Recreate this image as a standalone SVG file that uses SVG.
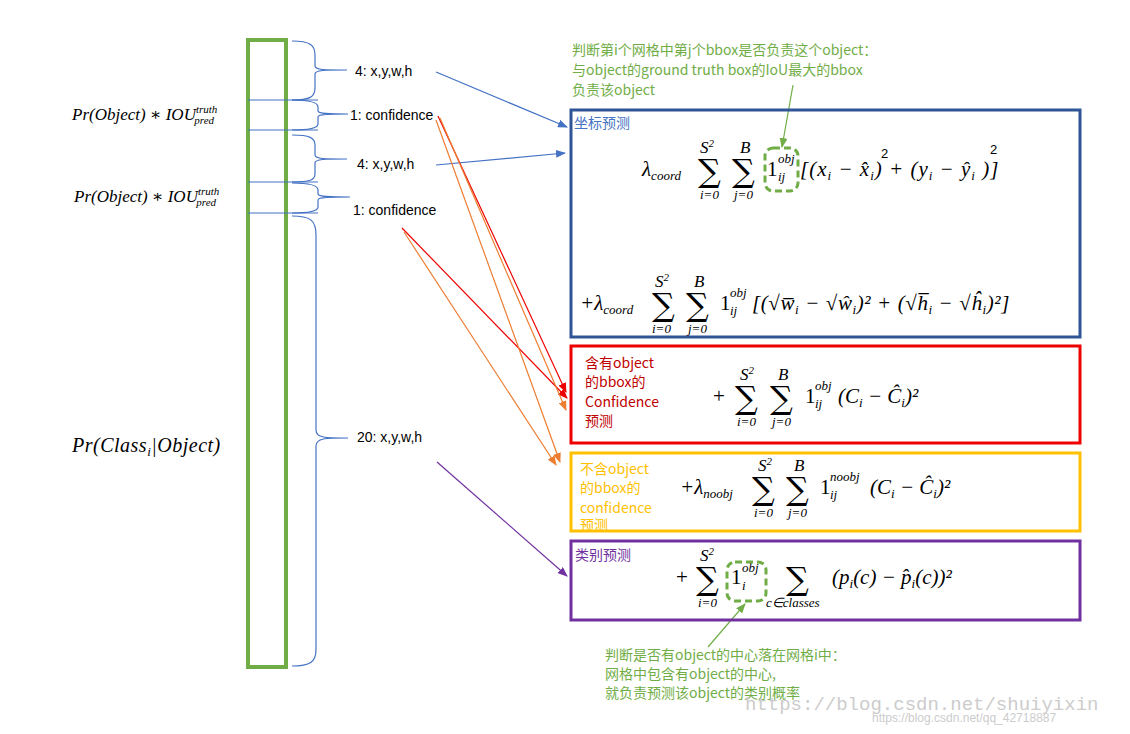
<svg xmlns="http://www.w3.org/2000/svg" width="1130" height="734" viewBox="0 0 1130 734">
<style>
.lbl{font-family:"Liberation Sans",Arial,sans-serif;font-size:14px;fill:#000}
.m{font-family:"Liberation Serif","DejaVu Serif",serif;font-style:italic;font-size:21px;fill:#000}
.s{font-family:"Liberation Serif","DejaVu Serif",serif;font-style:italic;font-size:17px;fill:#000}
.lf{font-family:"Liberation Serif","DejaVu Serif",serif;font-style:italic;font-size:17px;fill:#000}
.lc{font-family:"Liberation Serif","DejaVu Serif",serif;font-style:italic;font-size:20px;fill:#000}
.mu{font-family:"Liberation Serif","DejaVu Serif",serif;font-size:21px;fill:#000}
.sig{font-family:"DejaVu Serif",serif;font-size:32px;fill:#000}
.sm{font-family:"Liberation Serif",serif;font-style:italic;font-size:13px;fill:#000}
.two{font-family:"Liberation Sans",Arial,sans-serif;font-size:13px;fill:#000}
.cn{font-family:"Noto Sans CJK SC","Liberation Sans",sans-serif;font-size:14px}
.br{fill:none;stroke:#4472c4;stroke-width:1.2}
.dash{fill:none;stroke:#70ad47;stroke-width:3;stroke-dasharray:7 4}
</style>
<defs>
<marker id="ab" markerWidth="10" markerHeight="8" refX="9" refY="4" orient="auto" markerUnits="userSpaceOnUse"><path d="M0,0L10,4L0,8z" fill="#4472c4"/></marker>
<marker id="ar" markerWidth="10" markerHeight="8" refX="9" refY="4" orient="auto" markerUnits="userSpaceOnUse"><path d="M0,0L10,4L0,8z" fill="#e00"/></marker>
<marker id="ao" markerWidth="10" markerHeight="8" refX="9" refY="4" orient="auto" markerUnits="userSpaceOnUse"><path d="M0,0L10,4L0,8z" fill="#ed7d31"/></marker>
<marker id="ap" markerWidth="10" markerHeight="8" refX="9" refY="4" orient="auto" markerUnits="userSpaceOnUse"><path d="M0,0L10,4L0,8z" fill="#7030a0"/></marker>
<marker id="ag" markerWidth="10" markerHeight="8" refX="9" refY="4" orient="auto" markerUnits="userSpaceOnUse"><path d="M0,0L10,4L0,8z" fill="#70ad47"/></marker>
</defs>
<rect width="1130" height="734" fill="#fff"/>

<g id="vector">
<rect x="248" y="40" width="38" height="627" fill="none" stroke="#70ad47" stroke-width="4"/>
<g stroke="#4472c4" stroke-width="1.2">
<line x1="248" y1="100" x2="318" y2="100"/><line x1="248" y1="130" x2="318" y2="130"/>
<line x1="248" y1="182" x2="318" y2="182"/><line x1="248" y1="213" x2="318" y2="213"/>
</g>
<path class="br" d="M292,41 C310,41 315,45 315,55 L315,66 C315,70 325,70 347,70 C325,70 315,70 315,74 L315,88 C315,97 310,100 292,100"/>
<path class="br" d="M292,100 C310,100 318,102 318,107 L318,111 C318,114 330,114 348,114 C330,114 318,114 318,117 L318,124 C318,128 310,130 292,130"/>
<path class="br" d="M292,135 C310,135 315,138 315,145 L315,155 C315,159 325,159 347,159 C325,159 315,159 315,163 L315,174 C315,180 310,182 292,182"/>
<path class="br" d="M292,183 C310,183 318,185 318,190 L318,194 C318,197 330,197 350,197 C330,197 318,197 318,200 L318,207 C318,211 310,213 292,213"/>
<path class="br" d="M292,216 C310,216 316,220 316,235 L316,430 C316,438 325,438 348,438 C325,438 316,438 316,446 L316,650 C316,662 310,666 292,666"/>
</g>

<g id="left-labels">
<text x="72" y="120" class="lf">Pr(Object) ∗ IOU<tspan font-size="11" dy="-7">truth</tspan><tspan font-size="11" dx="-23" dy="11">pred</tspan></text>
<text x="74" y="202" class="lf">Pr(Object) ∗ IOU<tspan font-size="11" dy="-7">truth</tspan><tspan font-size="11" dx="-23" dy="11">pred</tspan></text>
<text x="72" y="452" class="lc" letter-spacing="0.5">Pr(Class<tspan font-size="13" dy="4">i</tspan><tspan dy="-4">|Object)</tspan></text>
</g>

<g id="vec-labels" class="lbl">
<text x="355" y="76">4: x,y,w,h</text>
<text x="350" y="120">1: confidence</text>
<text x="357" y="169">4: x,y,w,h</text>
<text x="353" y="215">1: confidence</text>
<text x="357" y="442">20:  x,y,w,h</text>
</g>

<g id="connectors" fill="none" stroke-width="1.2">
<line x1="436" y1="72" x2="567" y2="127" stroke="#4472c4" marker-end="url(#ab)"/>
<line x1="436" y1="165" x2="565" y2="153" stroke="#4472c4" marker-end="url(#ab)"/>
<line x1="438" y1="116" x2="566" y2="392" stroke="#e00" marker-end="url(#ar)"/>
<line x1="402" y1="228" x2="567" y2="398" stroke="#e00" marker-end="url(#ar)"/>
<line x1="436" y1="120" x2="560" y2="462" stroke="#ed7d31" marker-end="url(#ao)"/>
<line x1="440" y1="118" x2="566" y2="410" stroke="#ed7d31" marker-end="url(#ao)"/>
<line x1="404" y1="232" x2="556" y2="465" stroke="#ed7d31" marker-end="url(#ao)"/>
<line x1="437" y1="462" x2="567" y2="576" stroke="#7030a0" marker-end="url(#ap)"/>
<line x1="793" y1="85" x2="782" y2="147" stroke="#70ad47" marker-end="url(#ag)"/>
<line x1="708" y1="647" x2="745" y2="604" stroke="#70ad47" marker-end="url(#ag)"/>
</g>

<g id="coord-box">
<rect x="571" y="110" width="509" height="227" fill="none" stroke="#2f5597" stroke-width="3"/>
<text x="574" y="128" class="cn" fill="#4472c4">坐标预测</text>
<text x="642" y="176" class="m">λ<tspan font-size="13" dy="4">coord</tspan></text>
<text x="698" y="182" class="sig">∑</text><text x="700" y="153" class="s">S<tspan font-size="11" dy="-6">2</tspan></text><text x="700" y="199" class="sm">i=0</text>
<text x="732" y="182" class="sig">∑</text><text x="740" y="153" class="s">B</text><text x="734" y="199" class="sm">j=0</text>
<text x="767" y="176" class="mu">1</text><text x="778" y="163" class="sm">obj</text><text x="778" y="181" class="sm">ij</text>
<rect x="765" y="148" width="33" height="43" rx="8" class="dash"/>
<text x="800" y="176" class="m" letter-spacing="1">[(x<tspan font-size="13" dy="4">i</tspan><tspan dy="-4"> − x̂</tspan><tspan font-size="13" dy="4">i</tspan><tspan dy="-4">)  + (y</tspan><tspan font-size="13" dy="4">i</tspan><tspan dy="-4"> − ŷ</tspan><tspan font-size="13" dy="4">i</tspan><tspan dy="-4">  )]</tspan></text>
<text x="881" y="158" class="two">2</text><text x="990" y="154" class="two">2</text>
<text x="580" y="310" class="m">+λ<tspan font-size="13" dy="4">coord</tspan></text>
<text x="652" y="316" class="sig">∑</text><text x="655" y="287" class="s">S<tspan font-size="11" dy="-6">2</tspan></text><text x="652" y="333" class="sm">i=0</text>
<text x="686" y="316" class="sig">∑</text><text x="694" y="287" class="s">B</text><text x="688" y="333" class="sm">j=0</text>
<text x="720" y="310" class="mu">1</text><text x="730" y="297" class="sm">obj</text><text x="730" y="315" class="sm">ij</text>
<text x="752" y="310" class="m" letter-spacing="0.6">[(√w̅<tspan font-size="13" dy="4">i</tspan><tspan dy="-4"> − √ŵ</tspan><tspan font-size="13" dy="4">i</tspan><tspan dy="-4">)² + (√h̅</tspan><tspan font-size="13" dy="4">i</tspan><tspan dy="-4"> − √ĥ</tspan><tspan font-size="13" dy="4">i</tspan><tspan dy="-4">)²]</tspan></text>
</g>

<g id="conf-obj-box">
<rect x="571" y="346" width="509" height="97" fill="none" stroke="#e00" stroke-width="3"/>
<text class="cn" fill="#c00000"><tspan x="585" y="368">含有object</tspan><tspan x="585" y="387">的bbox的</tspan><tspan x="585" y="407">Confidence</tspan><tspan x="585" y="426">预测</tspan></text>
<text x="713" y="403" class="mu">+</text>
<text x="735" y="409" class="sig">∑</text><text x="740" y="380" class="s">S<tspan font-size="11" dy="-6">2</tspan></text><text x="737" y="426" class="sm">i=0</text>
<text x="770" y="409" class="sig">∑</text><text x="778" y="380" class="s">B</text><text x="772" y="426" class="sm">j=0</text>
<text x="805" y="403" class="mu">1</text><text x="815" y="390" class="sm">obj</text><text x="815" y="408" class="sm">ij</text>
<text x="838" y="403" class="m">(C<tspan font-size="13" dy="4">i</tspan><tspan dy="-4"> − Ĉ</tspan><tspan font-size="13" dy="4">i</tspan><tspan dy="-4">)²</tspan></text>
</g>

<g id="conf-noobj-box">
<rect x="571" y="453" width="509" height="78" fill="none" stroke="#ffc000" stroke-width="3"/>
<text class="cn" fill="#ffc000"><tspan x="580" y="474">不含object</tspan><tspan x="580" y="493">的bbox的</tspan><tspan x="580" y="513">confidence</tspan><tspan x="580" y="530">预测</tspan></text>
<text x="680" y="494" class="m">+λ<tspan font-size="13" dy="4">noobj</tspan></text>
<text x="752" y="500" class="sig">∑</text><text x="758" y="471" class="s">S<tspan font-size="11" dy="-6">2</tspan></text><text x="754" y="517" class="sm">i=0</text>
<text x="786" y="500" class="sig">∑</text><text x="794" y="471" class="s">B</text><text x="788" y="517" class="sm">j=0</text>
<text x="820" y="494" class="mu">1</text><text x="830" y="481" class="sm">noobj</text><text x="830" y="499" class="sm">ij</text>
<text x="870" y="494" class="m">(C<tspan font-size="13" dy="4">i</tspan><tspan dy="-4"> − Ĉ</tspan><tspan font-size="13" dy="4">i</tspan><tspan dy="-4">)²</tspan></text>
</g>

<g id="class-box">
<rect x="571" y="541" width="509" height="79" fill="none" stroke="#7030a0" stroke-width="3"/>
<text x="575" y="560" class="cn" fill="#7030a0">类别预测</text>
<text x="676" y="584" class="mu">+</text>
<text x="696" y="590" class="sig">∑</text><text x="700" y="561" class="s">S<tspan font-size="11" dy="-6">2</tspan></text><text x="698" y="607" class="sm">i=0</text>
<text x="731" y="584" class="mu">1</text><text x="742" y="572" class="sm">obj</text><text x="742" y="590" class="sm">i</text>
<rect x="727" y="562" width="39" height="39" rx="8" class="dash"/>
<text x="786" y="590" class="sig">∑</text><text x="766" y="607" class="sm">c∈classes</text>
<text x="832" y="584" class="m">(p<tspan font-size="13" dy="4">i</tspan><tspan dy="-4">(c) − p̂</tspan><tspan font-size="13" dy="4">i</tspan><tspan dy="-4">(c))²</tspan></text>
</g>

<g id="note-top" class="cn" fill="#70ad47">
<text><tspan x="572" y="55">判断第i个网格中第j个bbox是否负责这个object：</tspan><tspan x="572" y="75">与object的ground truth box的IoU最大的bbox</tspan><tspan x="572" y="95">负责该object</tspan></text>
</g>
<g id="note-bottom" class="cn" fill="#70ad47">
<text><tspan x="605" y="660">判断是否有object的中心落在网格i中：</tspan><tspan x="605" y="679">网格中包含有object的中心,</tspan><tspan x="605" y="698">就负责预测该object的类别概率</tspan></text>
</g>
<g id="watermark">
<text x="745" y="710" font-family="Liberation Mono,monospace" font-size="19" fill="#ccc">https://blog.csdn.net/shuiyixin</text>
<text x="872" y="722" font-family="Liberation Sans,sans-serif" font-size="12" fill="#ccc">https://blog.csdn.net/qq_42718887</text>
</g>
</svg>
